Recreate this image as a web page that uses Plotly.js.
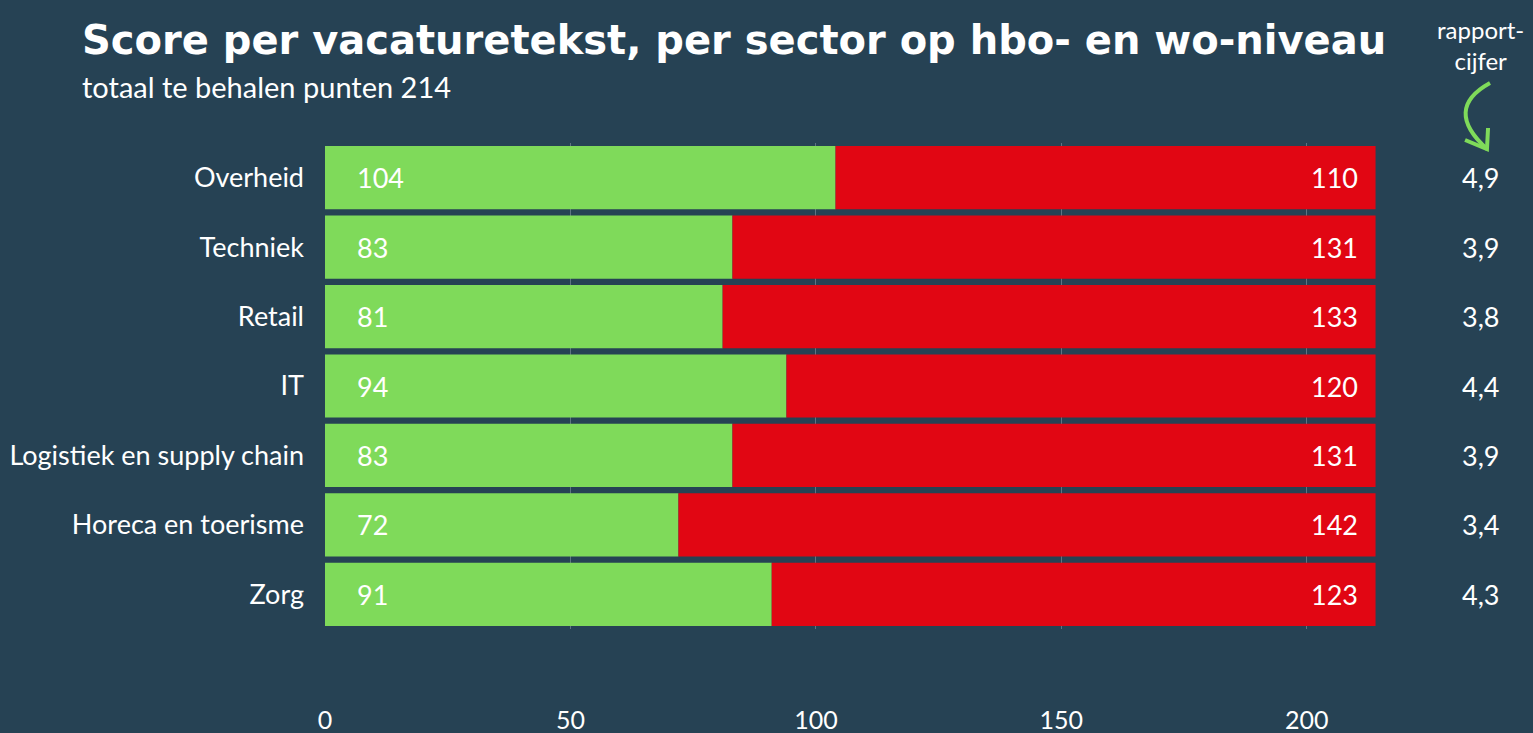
<!DOCTYPE html>
<html>
<head>
<meta charset="utf-8">
<script src="https://cdn.plot.ly/plotly-3.0.1.min.js"></script>
<style>
  html, body { margin: 0; padding: 0; background: #264254; }
  #chart { width: 1533px; height: 733px; }
</style>
</head>
<body>
<div id="chart"></div>
<script>
const sectors = ["Overheid", "Techniek", "Retail", "IT", "Logistiek en supply chain", "Horeca en toerisme", "Zorg"];
const behaald = [104, 83, 81, 94, 83, 72, 91];
const gemist = [110, 131, 133, 120, 131, 142, 123];
const rapportcijfer = ["4,9", "3,9", "3,8", "4,4", "3,9", "3,4", "4,3"];
const xTicks = [0, 50, 100, 150, 200];
const totaal = 214;

const BG = "#264254";
const GREEN = "#7FDA5A";
const RED = "#E10613";
const FONT = "Lato, 'Open Sans', sans-serif";
const TITLE_FONT = "'DejaVu Sans', Lato, sans-serif";

const traces = [
  {
    type: "bar", orientation: "h",
    y: sectors, x: behaald,
    marker: { color: GREEN, cornerradius: 4 },
    hoverinfo: "skip", showlegend: false
  },
  {
    type: "bar", orientation: "h",
    y: sectors, x: gemist, base: behaald,
    marker: { color: RED },
    hoverinfo: "skip", showlegend: false
  }
];

const annotations = [];
sectors.forEach((s, i) => {
  annotations.push({
    x: 0, y: s, xref: "x", yref: "y", text: String(behaald[i]),
    xanchor: "left", yanchor: "middle", xshift: 30, showarrow: false,
    font: { family: FONT, size: 27, color: "#ffffff" }
  });
  annotations.push({
    x: behaald[i] + gemist[i], y: s, xref: "x", yref: "y", text: String(gemist[i]),
    xanchor: "right", yanchor: "middle", xshift: -16, showarrow: false,
    font: { family: FONT, size: 27, color: "#ffffff" }
  });
  annotations.push({
    x: 1.0, y: s, xref: "paper", yref: "y", text: rapportcijfer[i],
    xanchor: "center", yanchor: "middle", xshift: 75, showarrow: false,
    font: { family: FONT, size: 27, color: "#ffffff" }
  });
});

annotations.push(
  {
    xref: "paper", yref: "paper", x: -0.2269, y: 1.212, xanchor: "left", yanchor: "middle",
    showarrow: false, text: "<b>Score per vacaturetekst, per sector op hbo- en wo-niveau</b>",
    font: { family: TITLE_FONT, size: 40, color: "#ffffff" }
  },
  {
    xref: "paper", yref: "paper", x: -0.2269, y: 1.117, xanchor: "left", yanchor: "middle",
    showarrow: false, text: "totaal te behalen punten " + totaal,
    font: { family: FONT, size: 29, color: "#ffffff" }
  },
  {
    xref: "paper", yref: "paper", x: 1.0, y: 1.2016, xshift: 75, xanchor: "center", yanchor: "middle",
    showarrow: false, text: "rapport-<br>cijfer", align: "center",
    font: { family: FONT, size: 24, color: "#ffffff" }
  }
);

const layout = {
  width: 1533, height: 733,
  paper_bgcolor: BG, plot_bgcolor: BG,
  margin: { l: 325, r: 128, t: 143, b: 104 },
  barmode: "overlay",
  bargap: 0.09,
  font: { family: FONT, color: "#ffffff" },
  xaxis: {
    range: [0, 220], tickvals: xTicks, ticktext: xTicks.map(String),
    showgrid: true, gridcolor: "rgba(200,210,220,0.35)", gridwidth: 1,
    zeroline: false, showline: false, ticks: "",
    ticklabelstandoff: 74,
    tickfont: { family: FONT, size: 25, color: "#ffffff" },
    fixedrange: true
  },
  yaxis: {
    autorange: "reversed", type: "category",
    showgrid: false, zeroline: false, showline: false, ticks: "",
    ticklabelstandoff: 20,
    tickfont: { family: FONT, size: 27, color: "#ffffff" },
    fixedrange: true
  },
  annotations: annotations,
  shapes: [
    {
      type: "path", xref: "paper", yref: "paper", layer: "above",
      path: "M 1.0787 1.1235 Q 1.035 1.07 1.0759 0.9877",
      line: { color: GREEN, width: 4 }
    },
    {
      type: "path", xref: "paper", yref: "paper", layer: "above",
      path: "M 1.0556 1.0062 L 1.0759 0.9877 L 1.0769 1.0309",
      line: { color: GREEN, width: 4 }
    }
  ]
};

Plotly.newPlot("chart", traces, layout, { displayModeBar: false, staticPlot: true });
</script>
</body>
</html>
